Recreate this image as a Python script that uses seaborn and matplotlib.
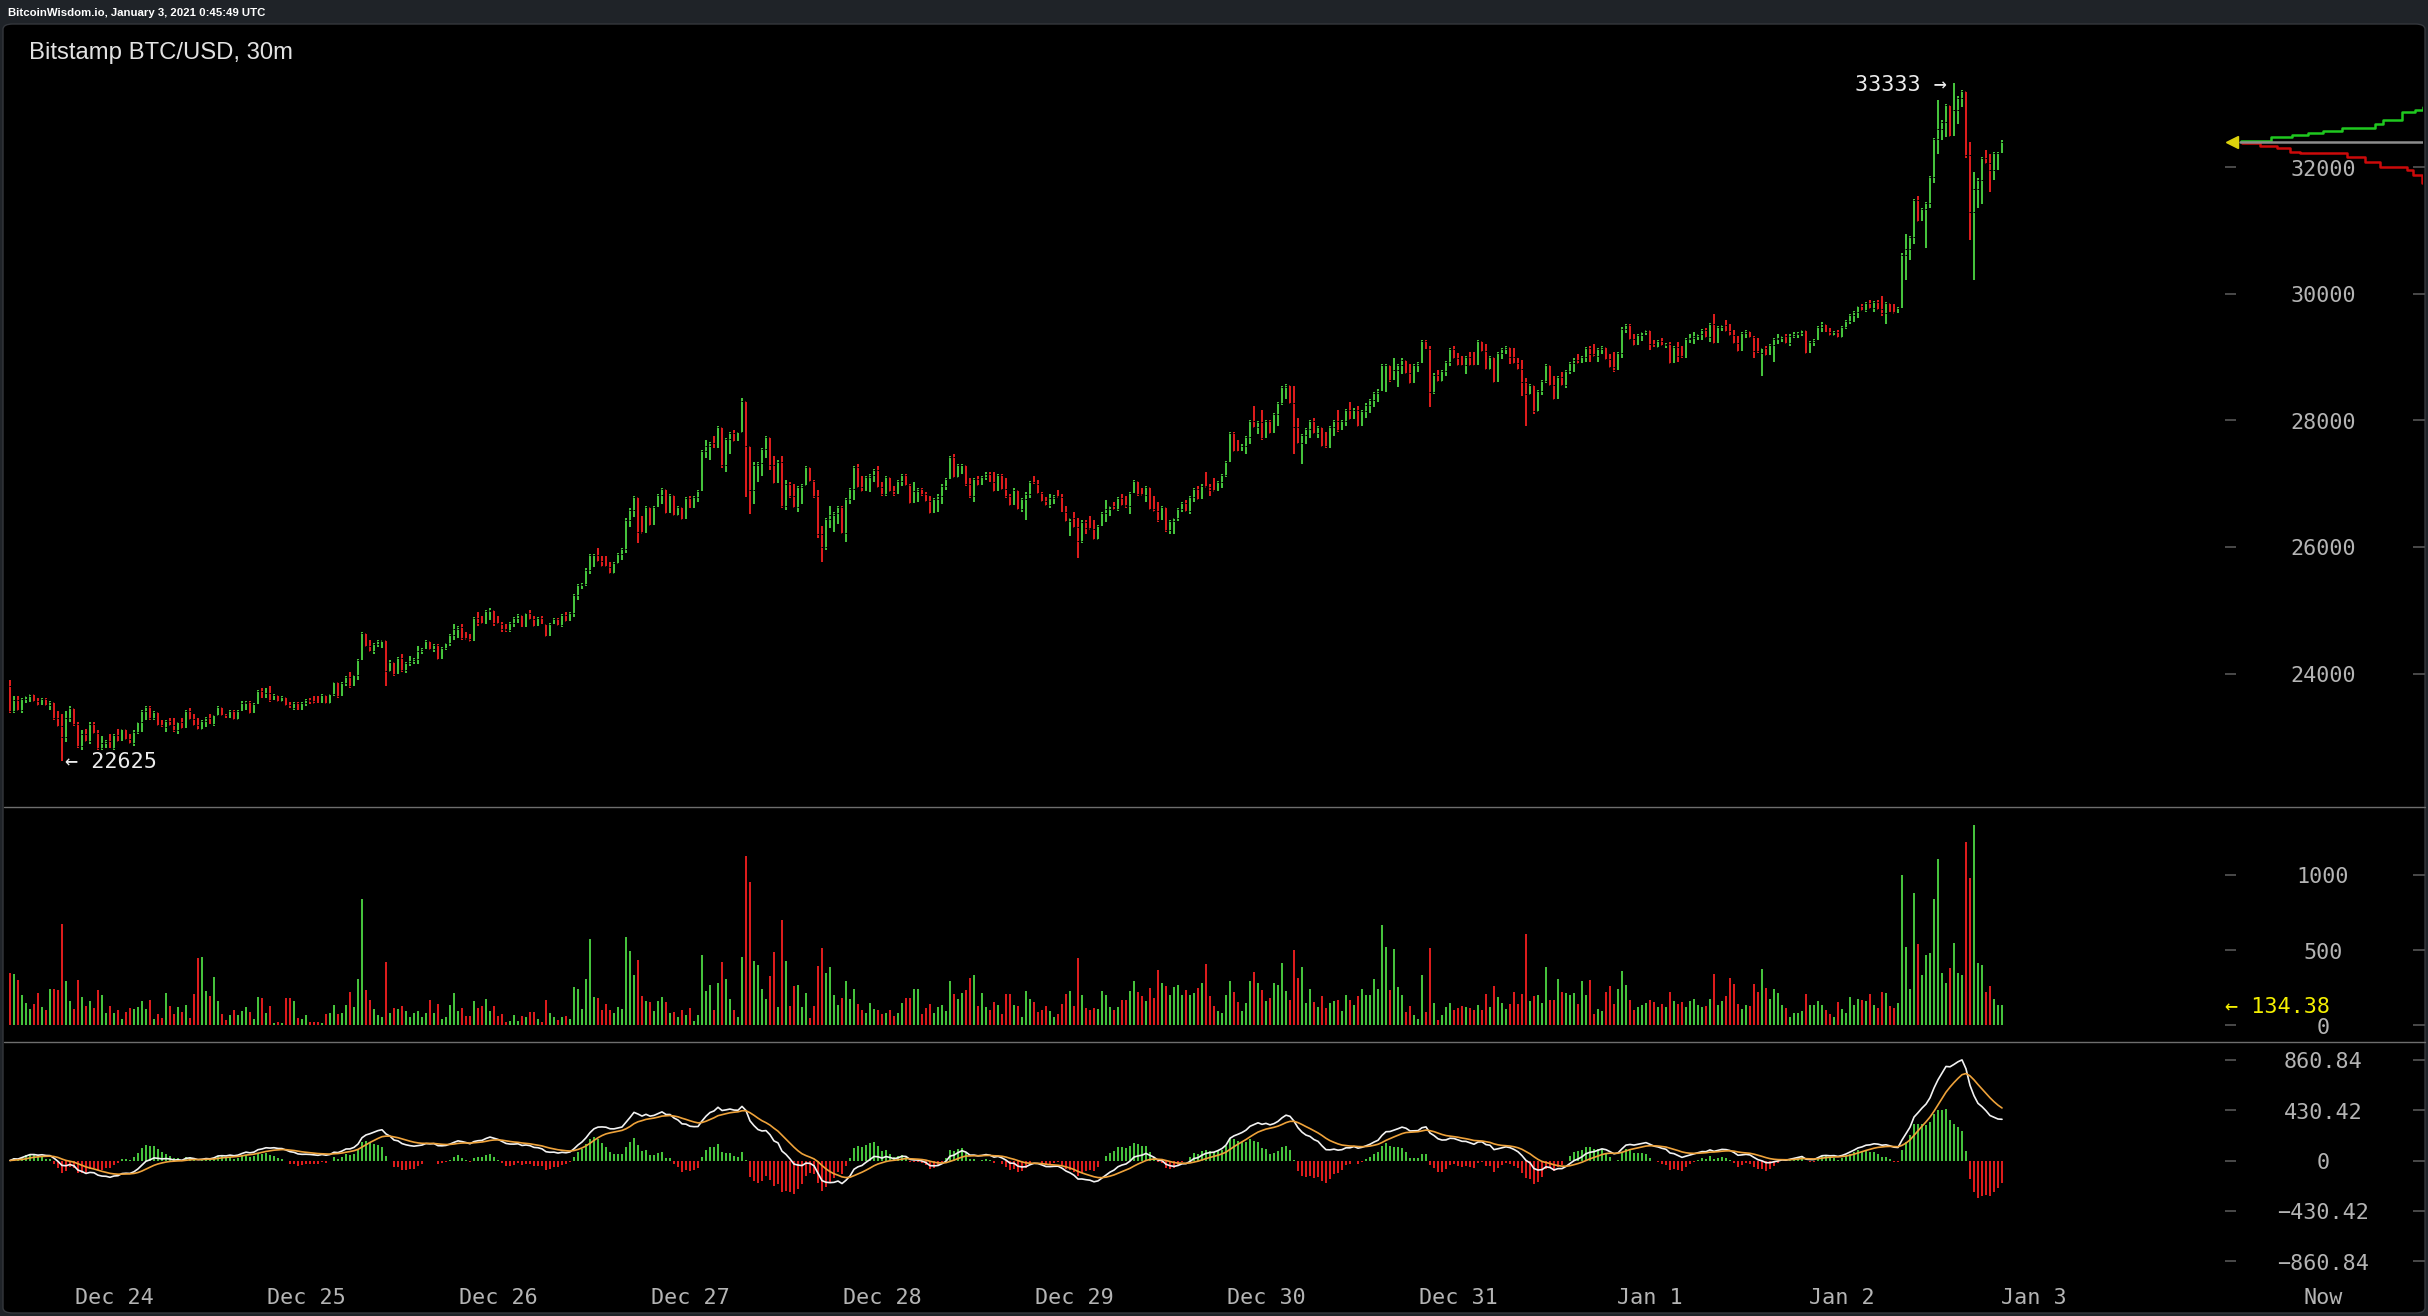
import numpy as np
import pandas as pd
import matplotlib
matplotlib.use("Agg")
import matplotlib.pyplot as plt
import matplotlib.transforms as mtransforms
from matplotlib.patches import FancyBboxPatch
from matplotlib.lines import Line2D
import seaborn as sns

# ---------------- data (Bitstamp BTC/USD, 30m candles) ----------------
first_open = 23800
highs = [
    23900, 23645, 23645, 23610, 23645, 23680, 23680, 23610, 23610, 23610, 23560, 23520, 23400, 23360, 23400, 23490,
    23420, 23240, 23110, 23130, 23240, 23240, 23110, 23010, 22950, 23045, 23045, 23130, 23130, 23130, 23045, 23100,
    23240, 23420, 23490, 23490, 23400, 23360, 23270, 23270, 23290, 23290, 23240, 23290, 23420, 23450, 23360, 23290,
    23270, 23320, 23360, 23350, 23490, 23420, 23360, 23420, 23420, 23420, 23560, 23560, 23560, 23530, 23740,
    23770, 23770, 23800, 23677, 23645, 23645, 23608, 23556, 23556, 23556, 23556, 23592, 23608, 23645, 23645, 23677,
    23608, 23677, 23872, 23835, 23872, 23961, 24030, 23977, 24225, 24662, 24625, 24530, 24477, 24530, 24530, 24504,
    24214, 24151, 24267, 24309, 24188, 24277, 24240, 24435, 24398, 24530, 24504, 24467, 24467, 24425, 24488, 24625,
    24783, 24751, 24783, 24662, 24625, 24888, 24978, 24909, 25004, 25030, 24909, 24909, 24820, 24783,
    24820, 24888, 24941, 24909, 24962, 25004, 24909, 24888, 24909, 24783, 24804, 24877, 24877, 24941, 24972, 24972,
    25257, 25415, 25425, 25662, 25889, 25889, 25978, 25857, 25857, 25768, 25768, 25910, 25978, 26452, 26610, 26805,
    26784, 26489, 26647, 26610, 26647, 26837, 26926, 26900, 26837, 26742, 26647, 26610, 26784, 26805, 26805, 26900,
    27532, 27690, 27664, 27753, 27911, 27848, 27716, 27822, 27848, 27822, 28360, 28296, 27595, 27348, 27348,
    27570, 27758, 27690, 27442, 27374, 27442, 27058, 27021, 26990, 26968, 26990, 27284, 27179, 27058, 26900, 26336,
    26463, 26652, 26558, 26652, 26652, 26779, 26937, 27284, 27305, 27126, 27126, 27147, 27232, 27284, 27021, 27126,
    27084, 26968, 27058, 27147, 27147, 26990, 27021, 26926, 26926, 26863, 26810, 26779, 26831, 26990, 27084, 27442,
    27464, 27305, 27305, 27284, 27084, 27084, 27126, 27126, 27179, 27179, 27179, 27147, 27147, 27084,
    26831, 26926, 26863, 26768, 26863, 27042, 27126, 27058, 26863, 26795, 26831, 26821, 26900, 26831, 26652, 26463,
    26547, 26452, 26426, 26426, 26494, 26426, 26347, 26558, 26742, 26652, 26716, 26795, 26831, 26810, 26863, 27058,
    27021, 26937, 26968, 26863, 26810, 26705, 26652, 26584, 26426, 26463, 26621, 26716, 26742, 26810, 26937, 26968,
    26990, 27179, 26990, 27084, 27042, 27147, 27358, 27822, 27811, 27690, 27621, 27758, 28006, 28232, 27990,
    28164, 28006, 28006, 28122, 28296, 28543, 28575, 28417, 28543, 28032, 27785, 27874, 28006, 28032, 27911, 27874,
    27822, 27911, 28006, 28164, 28006, 28175, 28296, 28190, 28227, 28164, 28269, 28333, 28454, 28490, 28891, 28891,
    28822, 28980, 28891, 28980, 28928, 28891, 28891, 28928, 29270, 29270, 29175, 28743, 28796, 28796, 28943, 29138,
    29175, 29070, 29017, 29017, 29086, 29086, 29270, 29244, 29207, 29017, 28954, 29086, 29138, 29175,
    29160, 29138, 28980, 28954, 28664, 28575, 28543, 28480, 28638, 28891, 28822, 28701, 28701, 28770, 28796, 28928,
    28980, 29049, 29017, 29165, 29175, 29207, 29138, 29175, 29138, 29049, 29086, 29086, 29470, 29523, 29523, 29365,
    29365, 29402, 29428, 29428, 29270, 29270, 29296, 29217, 29244, 29175, 29244, 29175, 29296, 29365, 29402, 29365,
    29438, 29454, 29533, 29681, 29491, 29507, 29586, 29523, 29428, 29333, 29402, 29428, 29402, 29333, 29296,
    29149, 29180, 29201, 29296, 29359, 29338, 29359, 29359, 29391, 29391, 29428, 29391, 29254, 29286, 29496, 29549,
    29518, 29465, 29412, 29428, 29496, 29586, 29675, 29728, 29812, 29833, 29865, 29902, 29886, 29902, 29970, 29865,
    29833, 29833, 29796, 30639, 30939, 30918, 31498, 31550, 31361, 31456, 31866, 32467, 33062, 32746, 32994, 32972,
    33333, 33130, 33220, 33099, 32404, 31930, 31835, 32167, 32272, 32204, 32235, 32235, 32430,
]
lows = [
    23370, 23370, 23400, 23370, 23530, 23555, 23555, 23490, 23520, 23490, 23420, 23270, 23150, 22625, 22920, 23240,
    23170, 22820, 22790, 22920, 22890, 23040, 22790, 22790, 22820, 22820, 22790, 22920, 23010, 22950, 22890, 22860,
    23045, 23080, 23270, 23270, 23270, 23170, 23150, 23080, 23170, 23080, 23045, 23130, 23190, 23270, 23170, 23110,
    23110, 23150, 23200, 23170, 23330, 23330, 23290, 23330, 23270, 23270, 23410, 23420, 23360, 23400, 23570,
    23610, 23645, 23556, 23582, 23556, 23556, 23487, 23450, 23424, 23424, 23424, 23487, 23519, 23519, 23530, 23582,
    23519, 23519, 23645, 23608, 23645, 23803, 23766, 23872, 23898, 24267, 24414, 24346, 24309, 24414, 24398, 23803,
    24030, 23961, 24045, 24030, 24003, 24119, 24151, 24151, 24309, 24382, 24372, 24346, 24214, 24240, 24372, 24435,
    24530, 24556, 24530, 24530, 24504, 24609, 24751, 24783, 24820, 24846, 24751, 24783, 24662, 24662,
    24660, 24741, 24793, 24730, 24751, 24846, 24730, 24767, 24783, 24572, 24661, 24783, 24751, 24730, 24820, 24835,
    24888, 25162, 25330, 25383, 25573, 25678, 25768, 25678, 25678, 25573, 25573, 25731, 25794, 25899, 26310, 26468,
    26057, 26205, 26363, 26331, 26479, 26637, 26679, 26521, 26584, 26489, 26489, 26426, 26573, 26610, 26679, 26716,
    26889, 27400, 27374, 27558, 27611, 27242, 27190, 27469, 27664, 27700, 27806, 26784, 26521, 26679, 27032,
    27126, 27411, 27216, 26990, 27137, 26610, 26584, 26779, 26610, 26558, 26673, 26968, 27021, 26779, 26147, 25767,
    25952, 26305, 26242, 26357, 26199, 26084, 26673, 26742, 26926, 26863, 26900, 26863, 27021, 26926, 26810, 26810,
    26863, 26810, 26831, 26968, 26968, 26673, 26810, 26716, 26810, 26705, 26526, 26621, 26558, 26673, 26900, 27084,
    27084, 27095, 27147, 26968, 26779, 26716, 26968, 27021, 27058, 27021, 26874, 26968, 26900, 26779,
    26652, 26779, 26584, 26558, 26426, 26779, 26990, 26831, 26705, 26652, 26621, 26673, 26779, 26547, 26400, 26178,
    26305, 25831, 26057, 26199, 26268, 26110, 26110, 26373, 26400, 26494, 26584, 26568, 26652, 26621, 26515, 26847,
    26810, 26810, 26716, 26584, 26558, 26400, 26426, 26242, 26199, 26199, 26410, 26558, 26558, 26515, 26716, 26742,
    26831, 26937, 26810, 26874, 26916, 26937, 27111, 27348, 27506, 27506, 27548, 27464, 27621, 27885, 27780,
    27690, 27753, 27785, 27890, 27911, 28243, 28333, 28259, 27469, 27627, 27311, 27627, 27716, 27785, 27716, 27574,
    27558, 27627, 27753, 27822, 27848, 27911, 28006, 28032, 27890, 28085, 28032, 28122, 28206, 28296, 28533, 28454,
    28612, 28733, 28522, 28733, 28733, 28575, 28638, 28770, 28912, 29123, 28206, 28417, 28612, 28612, 28701, 28859,
    28965, 28859, 28859, 28733, 28859, 28859, 28943, 29086, 28796, 28796, 28585, 28891, 28965, 29049,
    28891, 28891, 28796, 28385, 27911, 28401, 28101, 28138, 28401, 28585, 28543, 28322, 28348, 28543, 28506, 28733,
    28770, 28891, 28928, 28928, 28928, 28996, 28928, 29049, 28954, 28822, 28770, 28901, 28980, 29375, 29270, 29175,
    29207, 29259, 29349, 29112, 29154, 29138, 29175, 29138, 28891, 29049, 28928, 28980, 29017, 29228, 29207, 29270,
    29270, 29296, 29244, 29207, 29270, 29417, 29402, 29333, 29207, 29086, 29154, 29296, 29296, 28980, 29059,
    28706, 29022, 29075, 28927, 29201, 29243, 29201, 29180, 29296, 29296, 29338, 29043, 29075, 29180, 29270, 29391,
    29391, 29338, 29338, 29296, 29296, 29444, 29518, 29549, 29623, 29728, 29707, 29760, 29707, 29744, 29654, 29518,
    29707, 29675, 29728, 29781, 30218, 30534, 30781, 31129, 31150, 30729, 31350, 31745, 32204, 32430, 32483, 32483,
    32614, 32677, 32957, 32151, 30850, 30218, 31350, 31413, 32045, 31603, 31798, 31956, 32219,
]
closes = [
    23400, 23580, 23420, 23600, 23640, 23670, 23560, 23500, 23600, 23500, 23550, 23290, 23170, 23000, 23300, 23450,
    23200, 22850, 23050, 22940, 23200, 23060, 22820, 22900, 22940, 22830, 23030, 22940, 23120, 22960, 22900, 23080,
    23230, 23400, 23470, 23300, 23390, 23190, 23160, 23250, 23180, 23100, 23230, 23140, 23400, 23280, 23180, 23120,
    23250, 23300, 23210, 23340, 23470, 23340, 23300, 23410, 23280, 23410, 23540, 23550, 23380, 23520, 23730,
    23620, 23700, 23580, 23660, 23570, 23630, 23500, 23460, 23540, 23430, 23530, 23580, 23560, 23540, 23535, 23660,
    23530, 23670, 23860, 23640, 23850, 23950, 23800, 23970, 24210, 24640, 24430, 24360, 24460, 24520, 24525, 24040,
    24180, 23990, 24250, 24050, 24170, 24200, 24230, 24350, 24390, 24520, 24380, 24455, 24230, 24410, 24480, 24610,
    24700, 24740, 24560, 24540, 24515, 24870, 24800, 24790, 24990, 25010, 24800, 24790, 24700, 24680,
    24800, 24870, 24930, 24740, 24950, 24860, 24745, 24875, 24790, 24600, 24790, 24860, 24760, 24925, 24830, 24960,
    25240, 25400, 25420, 25640, 25870, 25880, 25780, 25700, 25690, 25590, 25750, 25890, 25960, 26430, 26590, 26790,
    26240, 26220, 26630, 26350, 26630, 26820, 26910, 26540, 26820, 26500, 26630, 26440, 26770, 26620, 26790, 26880,
    27510, 27600, 27650, 27570, 27890, 27300, 27700, 27800, 27680, 27810, 28300, 27600, 26900, 27300, 27330,
    27540, 27740, 27300, 27010, 27350, 26650, 27000, 26800, 26630, 26950, 26980, 27270, 27040, 26800, 26200, 26000,
    26440, 26500, 26540, 26630, 26220, 26760, 26920, 27260, 26950, 26880, 27100, 27130, 27220, 26940, 26830, 27110,
    26880, 26830, 27040, 27130, 26980, 26690, 26880, 26910, 26830, 26720, 26540, 26760, 26810, 26970, 27070, 27420,
    27100, 27290, 27300, 26990, 26800, 27070, 26980, 27110, 27160, 27030, 26890, 27130, 26910, 26800,
    26670, 26900, 26600, 26750, 26840, 27020, 27000, 26850, 26720, 26660, 26780, 26810, 26790, 26560, 26410, 26450,
    26320, 26100, 26400, 26300, 26280, 26130, 26330, 26540, 26600, 26640, 26600, 26780, 26670, 26640, 26850, 27040,
    26830, 26820, 26950, 26600, 26570, 26420, 26630, 26260, 26410, 26450, 26600, 26700, 26570, 26790, 26920, 26760,
    26970, 26950, 26900, 26885, 27030, 27130, 27340, 27800, 27520, 27510, 27600, 27740, 27990, 27900, 27980,
    27720, 27990, 27800, 28100, 28280, 28520, 28560, 28270, 27900, 27650, 27770, 27860, 27990, 27800, 27900, 27590,
    27570, 27890, 27990, 27840, 27990, 28160, 28020, 28170, 27910, 28150, 28250, 28320, 28440, 28470, 28870, 28880,
    28630, 28800, 28870, 28960, 28750, 28590, 28870, 28910, 29250, 29130, 28450, 28720, 28620, 28780, 28930, 29120,
    28980, 28880, 28870, 29000, 28880, 28870, 29250, 29100, 28810, 29000, 28600, 29070, 29120, 29160,
    29000, 28900, 28810, 28600, 28420, 28560, 28150, 28460, 28620, 28870, 28560, 28340, 28680, 28560, 28780, 28910,
    28960, 28900, 29000, 29150, 29050, 29010, 29120, 29160, 28970, 28840, 28790, 29070, 29450, 29510, 29290, 29190,
    29350, 29390, 29420, 29200, 29165, 29250, 29185, 29210, 28910, 29160, 29020, 28990, 29280, 29300, 29330, 29360,
    29420, 29310, 29520, 29230, 29470, 29500, 29410, 29345, 29220, 29100, 29380, 29410, 29310, 29100, 29070,
    29140, 29040, 29190, 29280, 29300, 29330, 29220, 29340, 29360, 29385, 29420, 29060, 29240, 29270, 29480, 29530,
    29400, 29350, 29400, 29310, 29480, 29570, 29660, 29710, 29800, 29740, 29850, 29770, 29870, 29760, 29700, 29850,
    29720, 29690, 29780, 30620, 30700, 30900, 31480, 31150, 31340, 31440, 31850, 32450, 32600, 32720, 32980, 32500,
    32900, 33100, 33200, 32200, 31300, 31660, 31800, 32150, 32060, 31950, 32220, 32230, 32400,
]
volumes = [
    351, 344, 300, 200, 149, 107, 140, 218, 120, 100, 240, 244, 233, 673, 293, 160, 111, 300, 186, 126,
    160, 113, 233, 200, 80, 126, 80, 100, 40, 87, 113, 107, 120, 160, 107, 167, 40, 73, 47, 213,
    126, 73, 120, 87, 133, 47, 206, 446, 453, 226, 193, 320, 160, 73, 33, 67, 100, 67, 93, 120,
    87, 40, 186, 180, 80, 126, 13, 20, 13, 180, 180, 160, 47, 40, 67, 20, 20, 20, 13, 73,
    80, 133, 73, 80, 133, 220, 120, 306, 839, 233, 167, 107, 67, 53, 420, 80, 113, 107, 126, 93,
    53, 80, 93, 53, 80, 167, 80, 140, 40, 53, 133, 213, 93, 113, 60, 60, 160, 113, 126, 173,
    93, 126, 60, 73, 20, 27, 67, 27, 60, 53, 87, 87, 40, 20, 167, 80, 53, 33, 53, 60,
    40, 253, 240, 107, 306, 573, 186, 180, 100, 140, 100, 80, 120, 107, 586, 493, 333, 433, 193, 160,
    153, 93, 160, 186, 153, 80, 87, 53,
    100, 67, 113, 27, 67, 466, 226, 266, 100, 280, 420, 306, 173, 100, 53, 453, 1126, 952, 426, 400,
    240, 173, 326, 486, 120, 699, 426, 126, 260, 266, 120, 213, 47, 126, 393, 513, 346, 386, 200, 133,
    180, 293, 173, 240, 140, 100, 80, 147, 107, 100, 73, 80, 100, 60, 80, 147, 180, 180, 240, 240,
    73, 113, 140, 80, 120, 133, 93, 293, 206, 173, 213, 233, 313, 333, 126, 213, 120, 100, 153, 133,
    73, 206, 206, 133, 126, 53, 226, 173, 153, 87, 100, 126, 93, 53, 73, 140, 206, 226, 126, 446,
    200, 113, 100, 113, 107, 226, 200, 120, 100, 120, 167, 167, 226, 293, 220, 193, 160, 246, 180, 366,
    280, 260, 200, 253, 266, 200, 233, 200, 213, 246, 280, 406, 193, 126, 93, 80, 200, 293, 220, 153,
    93, 147, 293, 353, 280, 233, 160, 180, 280, 266, 413, 226, 167, 500, 313, 386, 147, 240, 153, 120,
    193, 113, 147, 160, 167, 93, 200,
    167, 133, 193, 240, 200, 200, 306, 240, 666, 520, 233, 506, 253, 200, 87, 126, 67, 40, 333, 87,
    513, 147, 33, 67, 120, 147, 100, 113, 126, 120, 113, 100, 133, 100, 206, 120, 260, 186, 147, 107,
    140, 220, 140, 206, 606, 160, 193, 200, 147, 386, 167, 167, 306, 220, 213, 200, 213, 140, 293, 200,
    300, 73, 107, 93, 220, 260, 140, 240, 360, 266, 167, 100, 120, 133, 147, 167, 153, 120, 140, 120,
    220, 160, 140, 153, 120, 160, 173, 133, 120, 126, 173, 340, 133, 160, 193, 313, 273, 140, 107, 133,
    126, 273, 220, 373, 246, 173, 240, 213, 133, 113, 53, 80, 80, 93, 206, 133, 133, 160, 133, 100,
    73, 53, 153, 107, 80, 186, 133, 173, 167, 160, 206, 133, 113, 220, 213, 126, 113, 147, 999, 520,
    240, 879, 540, 333, 466, 480, 839, 1106, 346, 280, 380, 546, 346, 333, 1219, 979, 1332, 413, 400, 220,
    260, 173, 133, 134.38,
]
date_labels = ["Dec 24", "Dec 25", "Dec 26", "Dec 27", "Dec 28", "Dec 29",
               "Dec 30", "Dec 31", "Jan 1", "Jan 2", "Jan 3"]
first_midnight_candle = 26          # candle index of Dec 24 00:00
candles_per_day = 48
price_ticks = [24000, 26000, 28000, 30000, 32000]
volume_ticks = [0, 500, 1000]
macd_ticks = [860.84, 430.42, 0, -430.42, -860.84]
macd_tick_labels = ["860.84", "430.42", "0", "\u2212430.42", "\u2212860.84"]
# order book depth (cumulative amount, price)
ask_depth = [3, 33, 54, 70, 85, 104, 137, 145, 164, 177, 185]
ask_price = [32414, 32472, 32509, 32536, 32572, 32624, 32678, 32746, 32877, 32904, 32956]
bid_depth = [4, 22, 39, 52, 62, 109, 127, 142, 169, 175, 184]
bid_price = [32378, 32340, 32299, 32245, 32220, 32166, 32087, 32008, 31956, 31877, 31746]

# ---------------- derived ----------------
n = min(len(highs), len(lows), len(closes), len(volumes))
H_ = np.array(highs[:n], float)
L_ = np.array(lows[:n], float)
C_ = np.array(closes[:n], float)
V_ = np.array(volumes[:n], float)
O_ = np.r_[first_open, C_[:-1]]
idx = np.arange(n)
GREEN, RED = "#45c23c", "#dc1c1c"
up = C_ >= O_
ccol = np.where(up, GREEN, RED)

cs = pd.Series(C_)
dif = cs.ewm(span=12, adjust=False).mean() - cs.ewm(span=26, adjust=False).mean()
dea = dif.ewm(span=9, adjust=False).mean()
hist = 2 * (dif - dea)

# ---------------- figure ----------------
sns.set_theme(style="dark")
plt.rcParams["font.family"] = ["DejaVu Sans Mono", "DejaVu Sans"]
W, Hh = 2428, 1316
fig = plt.figure(figsize=(W / 100, Hh / 100), dpi=100, facecolor="#1f2328")


def rect(x0, y0, x1, y1):
    return [x0 / W, 1 - y1 / Hh, (x1 - x0) / W, (y1 - y0) / Hh]


def down(trans, px=2.5):
    return trans + mtransforms.ScaledTranslation(0, -px / 100, fig.dpi_scale_trans)


bg = FancyBboxPatch((3 / W, 3 / Hh), 2422 / W, (1313 - 24) / Hh,
                    boxstyle="round,pad=0,rounding_size=0.004",
                    transform=fig.transFigure, facecolor="black",
                    edgecolor="#34373c", linewidth=1.0, zorder=-10)
fig.patches.append(bg)

ax_p = fig.add_axes(rect(4, 25, 2425, 807))
ax_v = fig.add_axes(rect(4, 807, 2425, 1042), sharex=ax_p)
ax_m = fig.add_axes(rect(4, 1042, 2425, 1279), sharex=ax_p)
ax_d = fig.add_axes(rect(2238, 25, 2423, 807), sharey=ax_p)
for a in (ax_p, ax_v, ax_m, ax_d):
    a.set_facecolor("none")
    a.patch.set_visible(False)
    for s in a.spines.values():
        s.set_visible(False)
    a.tick_params(left=False, bottom=False, labelleft=False, labelbottom=False)
    a.grid(False)

ax_p.set_xlim(-1.5, 603.75)

# candles
lo = np.minimum(L_, np.minimum(O_, C_))
hi = np.maximum(H_, np.maximum(O_, C_))
ax_p.vlines(idx, lo, hi, colors=ccol, linewidth=1.45, capstyle="butt")
ax_p.hlines(O_, idx - 0.3, idx + 0.3, colors="black", linewidth=0.7)
ax_p.hlines(C_, idx - 0.3, idx + 0.3, colors="black", linewidth=0.7)

# volume
ax_v.bar(idx, V_, width=0.5, color=ccol, linewidth=0)

# MACD
ax_m.bar(idx, hist, width=0.5, color=np.where(hist >= 0, GREEN, RED), linewidth=0)
sns.lineplot(x=idx, y=dif.values, ax=ax_m, color="#f2f2f2", linewidth=1.2)
sns.lineplot(x=idx, y=dea.values, ax=ax_m, color="#eea23a", linewidth=1.2)

# depth
sns.lineplot(x=ask_depth, y=ask_price, ax=ax_d, color="#1fc81f", linewidth=1.8,
             drawstyle="steps-post", sort=False)
sns.lineplot(x=bid_depth, y=bid_price, ax=ax_d, color="#cc0a0a", linewidth=1.8,
             drawstyle="steps-post", sort=False)
ax_d.axhline(C_[-1], xmin=0.01, xmax=1.0, color="#8c8c8c", linewidth=1.8)
ax_p.plot([555.5], [C_[-1]], marker="<", markersize=8, color="#dcd20c",
          linestyle="none")

for a in (ax_p, ax_v, ax_m, ax_d):
    a.set_xlabel("")
    a.set_ylabel("")
ax_p.set_xlim(-1.5, 603.75)
ax_p.set_ylim(21891, 34247)
ax_v.set_ylim(-110, 1451)
ax_m.set_ylim(-1015, 1015)
ax_d.set_xlim(0, 185)

# axis labels (centred column) and tick dashes
LBL_X = 578.25
TXT = "#b4b4b4"
DASH = "#4a4a4a"
FS = 15.7
for ax, ticks, labels in (
    (ax_p, price_ticks, [str(t) for t in price_ticks]),
    (ax_v, volume_ticks, [str(t) for t in volume_ticks]),
    (ax_m, macd_ticks, macd_tick_labels),
):
    ax.hlines(ticks, 553.8, 556.6, colors=DASH, linewidth=1.4)
    ax.hlines(ticks, 600.8, 603.7, colors=DASH, linewidth=1.4)
    for t, s in zip(ticks, labels):
        ax.text(LBL_X, t, s, ha="center", va="center", color=TXT, fontsize=FS,
                transform=down(ax.transData))

# x-axis date labels
tx = mtransforms.blended_transform_factory(ax_m.transData, fig.transFigure)
for k, lab in enumerate(date_labels):
    ax_m.text(first_midnight_candle + k * candles_per_day, 1 - 1295 / Hh, lab,
              transform=down(tx), ha="center", va="center", color=TXT, fontsize=FS,
              clip_on=False)
ax_m.text(LBL_X, 1 - 1295 / Hh, "Now", transform=down(tx), ha="center", va="center",
          color=TXT, fontsize=FS, clip_on=False)

# extremes annotations
i_lo = int(np.argmin(L_))
i_hi = int(np.argmax(H_))
ax_p.text(i_lo + 0.8, L_[i_lo], f"\u2190 {L_[i_lo]:.0f}", ha="left", va="center",
          color="#ececec", fontsize=FS, transform=down(ax_p.transData, 1))
ax_p.text(i_hi - 1.8, H_[i_hi], f"{H_[i_hi]:.0f} \u2192", ha="right", va="center",
          color="#ececec", fontsize=FS, transform=down(ax_p.transData, 2.5))
ax_v.text(553.8, V_[-1], f"\u2190 {V_[-1]:.2f}", ha="left", va="center",
          color="#f5f000", fontsize=FS, transform=down(ax_v.transData, 1.5))

# panel separators
for yy in (807, 1042):
    fig.add_artist(Line2D([4 / W, 2425 / W], [1 - yy / Hh, 1 - yy / Hh],
                          transform=fig.transFigure, color="#6e6e6e", linewidth=1.0))

# titles
fig.text(8 / W, 1 - 13.5 / Hh, "BitcoinWisdom.io, January 3, 2021 0:45:49 UTC",
         ha="left", va="center", color="white", fontsize=8.2, fontweight="bold",
         family=["Liberation Sans", "DejaVu Sans"])
fig.text(29 / W, 1 - 53.5 / Hh, "Bitstamp BTC/USD, 30m", ha="left", va="center",
         color="#e2e2e2", fontsize=17.2, family=["Liberation Sans", "DejaVu Sans"])

fig.savefig("out.png", dpi=100, facecolor=fig.get_facecolor())
